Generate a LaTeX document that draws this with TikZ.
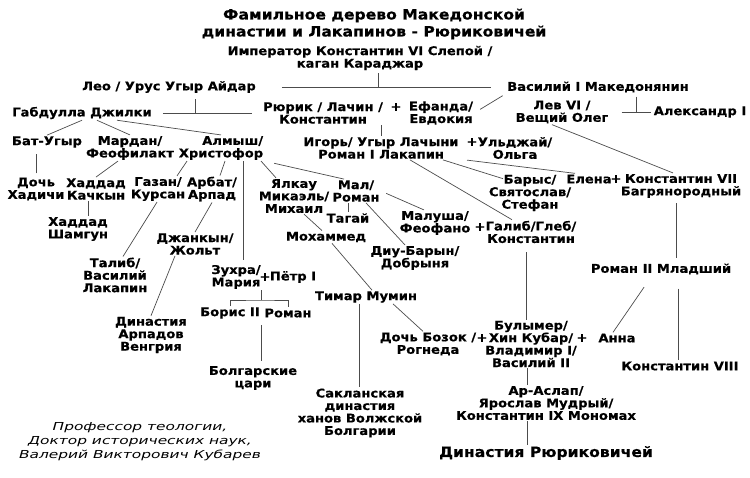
\documentclass[tikz,border=0pt]{standalone}
\usepackage{fontspec}
\newfontfamily\treefont[FakeStretch=1.09,BoldFeatures={FakeBold=0.5}]{DejaVu Sans}
\newfontfamily\signfont[FakeStretch=1.4]{DejaVu Sans}

\begin{document}
\begin{tikzpicture}[x=1pt,y=-1pt,
    person/.style={align=center,inner sep=1pt,font=\treefont\bfseries\fontsize{12}{12.5}\selectfont},
    plus/.style={inner sep=1pt,font=\treefont\bfseries\fontsize{12}{12.5}\selectfont},
    title/.style={align=center,inner sep=1pt,font=\treefont\bfseries\fontsize{14.3}{17}\selectfont},
    author/.style={align=center,inner sep=1pt,font=\signfont\itshape\fontsize{11}{14}\selectfont},
    link/.style={black!70,line width=0.7pt}]
    \fill[white] (0,0) rectangle (750,478);
    \useasboundingbox (0,0) rectangle (750,478);

    \node[title] (title) at (374,24) {Фамильное дерево Македонской\\династии и Лакапинов - Рюриковичей};
    \node[person] (emperor) at (360,58) {Император Константин VI Слепой /\\каган Караджар};
    \node[person] (leo) at (169,87) {Лео / Урус Угыр Айдар};
    \node[person] (vasiliy) at (598,87) {Василий I Македонянин};
    \node[person] (gabdulla) at (82,113) {Габдулла Джилки};
    \node[person] (ryurik) at (323,113) {Рюрик / Лачин /\\Константин};
    \node[plus] (plusa) at (396,107) {+};
    \node[person] (efanda) at (441,113) {Ефанда/\\Евдокия};
    \node[person] (lev) at (562,112) {Лев VI /\\Вещий Олег};
    \node[person] (aleksandr) at (700,112) {Александр I};

    \node[person] (batugyr) at (47,142) {Бат-Угыр};
    \node[person] (mardan) at (130,148) {Мардан/\\Феофилакт};
    \node[person,align=right] (almysh) at (221,148) {Алмыш/\\Христофор};
    \node[person] (igor) at (381,148) {Игорь/ Угыр Лачыни\\Роман I Лакапин};
    \node[plus] (plusb) at (472,142) {+};
    \node[person] (ulzhay) at (515,148) {Ульджай/\\Ольга};

    \node[person] (dochhad) at (36,189) {Дочь\\Хадичи};
    \node[person] (haddadk) at (96,189) {Хаддад\\Качкын};
    \node[person] (gazan) at (158,189) {Газан/\\Курсан};
    \node[person] (arbat) at (212,189) {Арбат/\\Арпад};
    \node[person] (yalkau) at (294,196) {Ялкау\\Микаэль/\\Михаил};
    \node[person] (mal) at (356,191) {Мал/\\Роман};
    \node[person] (tagay) at (348,218) {Тагай};
    \node[person] (barys) at (530,193) {Барыс/\\Святослав/\\Стефан};
    \node[person] (elena) at (589,179) {Елена};
    \node[plus] (plusc) at (616,179) {+};
    \node[person] (konst7) at (681,186) {Константин VII\\Багрянородный};

    \node[person] (haddadsh) at (78,229) {Хаддад\\Шамгун};
    \node[person] (malusha) at (435,223) {Малуша/\\Феофано};
    \node[plus] (plusd) at (480,227) {+};
    \node[person] (galib) at (531,232) {Галиб/Глеб/\\Константин};
    \node[person] (dzhankyn) at (195,244) {Джанкын/\\Жольт};
    \node[person] (mohammed) at (326,237) {Мохаммед};
    \node[person] (diubaryn) at (415,258) {Диу-Барын/\\Добрыня};
    \node[person] (talib) at (115,275) {Талиб/\\Василий\\Лакапин};
    \node[person] (roman2) at (661,269) {Роман II Младший};
    \node[person] (zuhra) at (236,277) {Зухра/\\Мария};
    \node[plus] (pluse) at (265,277) {+};
    \node[person] (petr) at (293,277) {Пётр I};
    \node[person] (timar) at (366,297) {Тимар Мумин};
    \node[person] (boris) at (230,313) {Борис II};
    \node[person] (romanb) at (288,313) {Роман};
    \node[person] (dinarp) at (151,335) {Династия\\Арпадов\\Венгрия};
    \node[person] (bozok) at (428,344) {Дочь Бозок /\\Рогнеда};
    \node[plus] (plusf) at (482,338) {+};
    \node[person] (bulymer) at (531,344) {Булымер/\\Хин Кубар/\\Владимир I/\\Василий II};
    \node[plus] (plusg) at (582,338) {+};
    \node[person] (anna) at (617,338) {Анна};
    \node[person] (konst8) at (680,366) {Константин VIII};
    \node[person] (boltsari) at (253,378) {Болгарские\\цари};
    \node[person] (saklan) at (360,413) {Сакланская\\династия\\ханов Волжской\\Болгарии};
    \node[person] (araslap) at (546,403) {Ар-Аслап/\\Ярослав Мудрый/\\Константин IX Мономах};
    \node[title] (dinryur) at (546,453) {Династия Рюриковичей};
    \node[author] (author) at (140,442) {Профессор теологии,\\Доктор исторических наук,\\Валерий Викторович Кубарев};

    \coordinate (ej) at (378,87);
    \coordinate (lj) at (195,113);
    \coordinate (vj) at (636,112);
    \coordinate (zj) at (261,300);

    \path[link] (leo) edge[shorten <=25pt,shorten >=15pt] (vasiliy)
                (emperor.south -| ej) edge[shorten <=2pt] (ej)
                (gabdulla) edge[shorten <=10pt,shorten >=10pt] (ryurik)
                (leo.south -| lj) edge[shorten <=5pt] (lj)
                (igor.north) edge (igor.north |- ryurik.south)
                (efanda.east) edge[shorten <=7pt,shorten >=4pt] (vasiliy.south west)
                (lev) edge[shorten <=12pt,shorten >=2pt] (aleksandr)
                (vasiliy.south -| vj) edge[shorten <=3pt] (vj)
                ([xshift=-10pt]lev.south) edge ([xshift=-8pt]konst7.north);
    \path[link] (gabdulla.south) edge (batugyr.north)
                ([xshift=15pt]gabdulla.south) edge (mardan.north)
                ([xshift=35pt]gabdulla.south) edge (almysh.north)
                (dochhad.north) edge[shorten <=3pt,shorten >=5pt] (dochhad.north |- batugyr.south)
                ([xshift=-12pt]mardan.south) edge (haddadk.north)
                ([xshift=-8pt]haddadk.south) edge ([xshift=10pt]haddadsh.north)
                ([xshift=-34pt]almysh.south) edge ([xshift=19pt]gazan.north)
                ([xshift=4pt]almysh.south) edge ([xshift=8pt]arbat.north)
                ([xshift=22pt]almysh.south) edge[shorten >=4pt] ([xshift=7pt]zuhra.north)
                ([xshift=40pt]almysh.south) edge ([xshift=-18pt]yalkau.north)
                (almysh.south east) edge[shorten <=10pt] ([xshift=-12pt]mal.north);
    \path[link] ([xshift=-1pt]gazan.south) edge ([xshift=8pt]talib.north)
                (arbat.south) edge (dzhankyn.north)
                ([xshift=-20pt]dzhankyn.south) edge (dinarp.north)
                ([xshift=10pt]yalkau.south) edge ([xshift=-4pt]mohammed.north)
                (tagay.north) edge (tagay.north |- mal.south)
                (mal.east) edge[shorten <=6pt] ([xshift=-11pt]malusha.north)
                ([xshift=10pt]mal.south) edge ([xshift=-10pt]diubaryn.north)
                ([xshift=6pt]mohammed.south) edge ([xshift=6pt]timar.north)
                ([xshift=27pt]timar.south) edge ([xshift=-5pt]bozok.north)
                ([xshift=-7pt]timar.south) edge ([xshift=-1pt]saklan.north)
                (zj) edge (zj |- zuhra.south)
                (boltsari.north -| zj) edge[shorten <=4pt,shorten >=5pt] (zj |- boris.south);
    \draw[link] (boris.north) |- (zj) -| (romanb.north);
    \path[link] ([xshift=-48pt]ulzhay.south) edge ([xshift=-14pt]elena.north)
                ([xshift=62pt]igor.south) edge ([xshift=-27pt,yshift=-5pt]barys.north)
                ([xshift=29pt]igor.south) edge ([xshift=-19pt]galib.north)
                ([xshift=-5pt]galib.south) edge[shorten <=8pt] ([xshift=-5pt]bulymer.north)
                ([xshift=-5pt]konst7.south) edge[shorten <=4pt,shorten >=4pt] ([xshift=15pt]roman2.north)
                ([xshift=-9pt]roman2.south) edge[shorten <=14pt] ([xshift=-4pt]anna.north)
                ([xshift=17pt]roman2.south) edge[shorten <=13pt] ([xshift=-2pt]konst8.north)
                ([xshift=-4pt]bulymer.south) edge ([xshift=-19pt]araslap.north)
                ([xshift=-19pt]araslap.south) edge ([xshift=-19pt]dinryur.north);
\end{tikzpicture}
\end{document}
